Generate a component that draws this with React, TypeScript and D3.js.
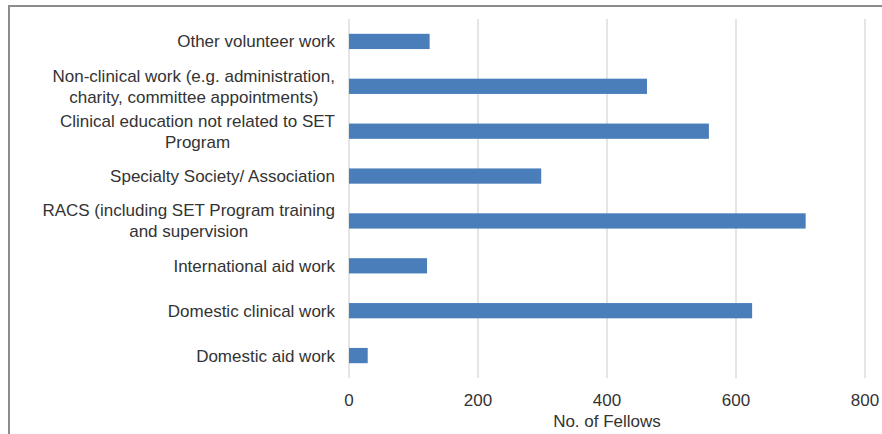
import React, { useEffect, useRef } from "react";
import * as d3 from "d3";

// categories top → bottom, each label pre-split into its wrapped lines
const categories = [
  "Other volunteer work",
  "Non-clinical work (e.g. administration,|charity, committee appointments)",
  "Clinical education not related to SET|Program",
  "Specialty Society/ Association",
  "RACS (including SET Program training|and supervision",
  "International aid work",
  "Domestic clinical work",
  "Domestic aid work",
];
const fellows = [125, 462, 558, 298, 708, 121, 625, 29];
const xTicks = [0, 200, 400, 600, 800];
const xTitle = "No. of Fellows";

const W = 882;
const H = 434;
const margin = { top: 19, right: 17, bottom: 56, left: 349 };
const font = "Liberation Sans, Arial, sans-serif";
const textColor = "#333333";

export default function App() {
  const svgRef = useRef<SVGSVGElement>(null);

  useEffect(() => {
    const el = svgRef.current;
    if (!el) return;
    d3.select(el).selectAll("*").remove();

    const svg = d3.select(el);
    const innerW = W - margin.left - margin.right;
    const innerH = H - margin.top - margin.bottom;

    const x = d3.scaleLinear().domain([0, 800]).range([0, innerW]);
    const y = d3.scaleBand<string>().domain(categories).range([0, innerH]).paddingInner(0.66).paddingOuter(0.33);

    // outer frame (top + left only)
    svg.append("line").attr("x1", 8).attr("x2", W).attr("y1", 6).attr("y2", 6)
      .attr("stroke", "#8c8c8c").attr("stroke-width", 2);
    svg.append("line").attr("x1", 9).attr("x2", 9).attr("y1", 5).attr("y2", H)
      .attr("stroke", "#8c8c8c").attr("stroke-width", 2);

    const g = svg.append("g").attr("transform", `translate(${margin.left},${margin.top})`);

    // gridlines
    g.selectAll("line.grid").data(xTicks).join("line")
      .attr("class", "grid")
      .attr("x1", (d) => x(d)).attr("x2", (d) => x(d))
      .attr("y1", 0).attr("y2", innerH)
      .attr("stroke", "#dcdcdc").attr("stroke-width", 1.5);

    // bars
    g.selectAll("rect.bar").data(categories).join("rect")
      .attr("class", "bar")
      .attr("x", x(0))
      .attr("y", (d) => y(d)!)
      .attr("width", (d, i) => x(fellows[i]) - x(0))
      .attr("height", y.bandwidth())
      .attr("fill", "#4a7ebb");

    // x tick labels
    g.selectAll("text.tick").data(xTicks).join("text")
      .attr("class", "tick")
      .attr("x", (d) => x(d))
      .attr("y", innerH + 28)
      .attr("text-anchor", "middle")
      .attr("font-family", font)
      .attr("font-size", 17)
      .attr("fill", textColor)
      .text((d) => d3.format("d")(d));

    g.append("text")
      .attr("x", innerW / 2)
      .attr("y", innerH + 49)
      .attr("text-anchor", "middle")
      .attr("font-family", font)
      .attr("font-size", 17)
      .attr("fill", textColor)
      .text(xTitle);

    // category labels: centred block, right edge near the axis
    const lineH = 21;
    categories.forEach((c) => {
      const lines = c.split("|");
      const cy = y(c)! + y.bandwidth() / 2;
      const t = g.append("text")
        .attr("font-family", font)
        .attr("font-size", 17)
        .attr("fill", textColor)
        .attr("text-anchor", "middle");
      lines.forEach((l, i) => {
        t.append("tspan")
          .attr("y", cy + (i - (lines.length - 1) / 2) * lineH)
          .attr("dy", "0.35em")
          .text(l);
      });
      const widths = t.selectAll<SVGTSpanElement, unknown>("tspan").nodes().map((n) => n.getComputedTextLength());
      const maxW = d3.max(widths) ?? 0;
      t.selectAll("tspan").attr("x", -14 - maxW / 2);
    });
  }, []);

  return (
    <svg
      ref={svgRef}
      width={W}
      height={H}
      style={{ position: "absolute", left: 0, top: 0, background: "#fff" }}
    />
  );
}
